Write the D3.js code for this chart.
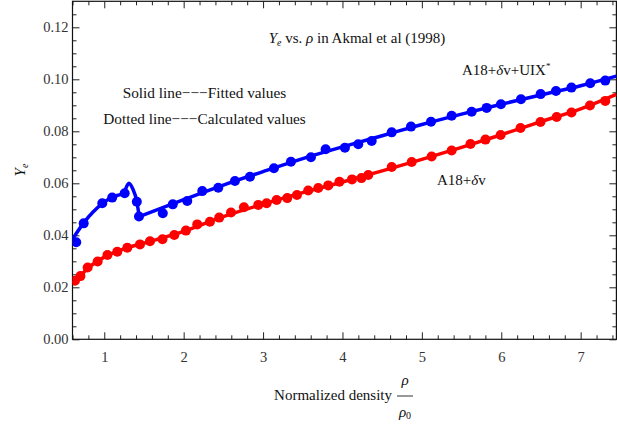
<!DOCTYPE html>
<html>
<head>
<meta charset="utf-8">
<script src="https://cdn.jsdelivr.net/npm/d3@7"></script>
<style>
  body { margin: 0; background: white; }
  svg text { font-family: "Liberation Serif", "DejaVu Serif", serif; }
</style>
</head>
<body>
<div id="chart"></div>
<script>
// calculated values (dots)
var redRho = [0.631, 0.700, 0.791, 0.917, 1.040, 1.164, 1.290, 1.450, 1.576, 1.733, 1.882, 2.029,
  2.171, 2.331, 2.448, 2.596, 2.759, 2.940, 3.045, 3.171, 3.305, 3.427, 3.569, 3.695, 3.821,
  3.962, 4.120, 4.239, 4.325, 4.620, 4.872, 5.123, 5.375, 5.612, 5.801, 5.992, 6.242, 6.494,
  6.698, 6.884, 7.117, 7.310];
var redYe = [0.0225, 0.0243, 0.0276, 0.0299, 0.0324, 0.0337, 0.0352, 0.0365, 0.0377, 0.0385, 0.0401, 0.0418,
  0.0442, 0.0452, 0.0468, 0.0488, 0.0508, 0.0517, 0.0523, 0.0536, 0.0543, 0.0555, 0.0572, 0.0582, 0.0592,
  0.0606, 0.0615, 0.0620, 0.0632, 0.0663, 0.0682, 0.0703, 0.0726, 0.0751, 0.0768, 0.0786, 0.0813, 0.0836,
  0.0855, 0.0872, 0.0899, 0.0917];

var blueRho = [0.647, 0.741, 0.975, 1.100, 1.257, 1.410, 1.437, 1.737, 1.863, 2.045, 2.234, 2.436,
  2.646, 2.835, 3.137, 3.351, 3.603, 3.788, 4.031, 4.199, 4.368, 4.620, 4.863, 5.115, 5.375,
  5.627, 5.816, 5.996, 6.248, 6.496, 6.689, 6.884, 7.121, 7.310];
var blueYe = [0.0373, 0.0446, 0.0523, 0.0545, 0.0562, 0.0529, 0.0472, 0.0485, 0.0519, 0.0532, 0.0570, 0.0583,
  0.0609, 0.0625, 0.0658, 0.0683, 0.0700, 0.0731, 0.0737, 0.0750, 0.0763, 0.0796, 0.0818, 0.0837, 0.0860,
  0.0875, 0.0890, 0.0904, 0.0923, 0.0943, 0.0955, 0.0968, 0.0985, 0.0995];

// fitted values (solid lines)
var redFitRho = [0.6, 0.7, 0.8, 1.0, 1.25, 1.5, 2.0, 2.5, 3.0, 3.5, 4.0, 4.5, 5.0, 5.5, 6.0, 6.5, 7.0, 7.45];
var redFitYe = [0.0215, 0.0245, 0.0275, 0.0316, 0.0348, 0.0370, 0.0415, 0.0472, 0.0520, 0.0564, 0.0605,
  0.0648, 0.0692, 0.0738, 0.0787, 0.0837, 0.0886, 0.0942];

var blueFitRho1 = [0.6, 0.741, 0.975, 1.10, 1.24, 1.31, 1.36, 1.41, 1.44];
var blueFitYe1 = [0.0385, 0.0448, 0.0522, 0.0547, 0.0562, 0.0600, 0.0578, 0.0530, 0.0472];
var blueFitRho2 = [1.44, 2.0, 2.5, 3.0, 3.5, 4.0, 4.5, 5.0, 5.5, 6.0, 6.5, 7.0, 7.45];
var blueFitYe2 = [0.0472, 0.0537, 0.0593, 0.0645, 0.0695, 0.0740, 0.0783, 0.0826, 0.0866, 0.0904,
  0.0940, 0.0975, 0.1012];

var xMajor = [1, 2, 3, 4, 5, 6, 7];
var yMajor = [0, 0.02, 0.04, 0.06, 0.08, 0.10, 0.12];

var width = 617, height = 425;
var plotLeft = 72.5, plotRight = 616.4, plotTop = 1.3, plotBottom = 339.3;

var svg = d3.select("#chart")
  .append("svg")
  .attr("width", width)
  .attr("height", height);

var x = d3.scaleLinear().domain([0.6, 7.45]).range([plotLeft, plotRight]);
var y = d3.scaleLinear().domain([0, 0.13]).range([plotBottom, plotTop]);

var xMinor = d3.range(0.6, 7.45, 0.2).filter(function(v) { return Math.abs(v - Math.round(v)) > 0.01; });
var yMinor = d3.range(0, 0.13, 0.005).filter(function(v) { return Math.abs(v / 0.02 - Math.round(v / 0.02)) > 0.01; });

svg.append("clipPath")
  .attr("id", "plotClip")
  .append("rect")
  .attr("x", plotLeft)
  .attr("y", plotTop)
  .attr("width", plotRight - plotLeft)
  .attr("height", plotBottom - plotTop);

// ticks on all four sides, pointing inward
function tickAxis(axis, pos, values, size, labels) {
  var g = svg.append("g")
    .attr("transform", pos)
    .call(axis.tickValues(values).tickSizeInner(-size).tickSizeOuter(0)
      .tickFormat(labels ? labels : ""));
  g.select(".domain").remove();
  g.selectAll(".tick line").attr("stroke", "#222");
  return g;
}

var xb = tickAxis(d3.axisBottom(x), "translate(0," + plotBottom + ")", xMajor, 7, d3.format("d"));
tickAxis(d3.axisBottom(x), "translate(0," + plotBottom + ")", xMinor, 4, null);
tickAxis(d3.axisTop(x), "translate(0," + plotTop + ")", xMajor, 7, null);
tickAxis(d3.axisTop(x), "translate(0," + plotTop + ")", xMinor, 4, null);
var yl = tickAxis(d3.axisLeft(y), "translate(" + plotLeft + ",0)", yMajor, 7, d3.format(".2f"));
tickAxis(d3.axisLeft(y), "translate(" + plotLeft + ",0)", yMinor, 4, null);
tickAxis(d3.axisRight(y), "translate(" + plotRight + ",0)", yMajor, 7, null);
tickAxis(d3.axisRight(y), "translate(" + plotRight + ",0)", yMinor, 4, null);

xb.selectAll(".tick text")
  .attr("y", 12)
  .style("font-size", "14.5px")
  .style("fill", "#333");
yl.selectAll(".tick text")
  .attr("x", -4)
  .style("font-size", "14.5px")
  .style("fill", "#333");

svg.append("rect")
  .attr("x", plotLeft)
  .attr("y", plotTop)
  .attr("width", plotRight - plotLeft)
  .attr("height", plotBottom - plotTop)
  .style("fill", "none")
  .style("stroke", "#111")
  .style("stroke-width", 1.2);

var plot = svg.append("g").attr("clip-path", "url(#plotClip)");

var line = d3.line()
  .x(function(d) { return x(d[0]); })
  .y(function(d) { return y(d[1]); })
  .curve(d3.curveMonotoneX);

function drawSeries(color, fits, rho, ye) {
  fits.forEach(function(f) {
    plot.append("path")
      .datum(d3.zip(f[0], f[1]))
      .attr("d", line)
      .style("fill", "none")
      .style("stroke", color)
      .style("stroke-width", 3.5)
      .style("stroke-linejoin", "round");
  });
  plot.selectAll(null)
    .data(d3.zip(rho, ye))
    .enter()
    .append("circle")
    .attr("cx", function(d) { return x(d[0]); })
    .attr("cy", function(d) { return y(d[1]); })
    .attr("r", 5)
    .style("fill", color);
}

drawSeries("#ff0000", [[redFitRho, redFitYe]], redRho, redYe);
drawSeries("#0000ff", [[blueFitRho1, blueFitYe1], [blueFitRho2, blueFitYe2]], blueRho, blueYe);

// annotations
var title = svg.append("text")
  .attr("x", 357)
  .attr("y", 43)
  .style("text-anchor", "middle")
  .style("font-size", "15px")
  .style("fill", "#111");
title.append("tspan").style("font-style", "italic").text("Y");
title.append("tspan").style("font-style", "italic").style("font-size", "10px").attr("dy", 3).text("e");
title.append("tspan").attr("dy", -3).text(" vs. ");
title.append("tspan").style("font-style", "italic").text("ρ");
title.append("tspan").text(" in Akmal et al (1998)");

svg.append("text")
  .attr("x", 204.5)
  .attr("y", 97.5)
  .style("text-anchor", "middle")
  .style("font-size", "15.3px")
  .style("fill", "#111")
  .text("Solid line−−−Fitted values");

svg.append("text")
  .attr("x", 204.5)
  .attr("y", 123.5)
  .style("text-anchor", "middle")
  .style("font-size", "15.3px")
  .style("fill", "#111")
  .text("Dotted line−−−Calculated values");

var blueLab = svg.append("text")
  .attr("x", 462)
  .attr("y", 75)
  .style("font-size", "15px")
  .style("fill", "#111");
blueLab.append("tspan").text("A18+");
blueLab.append("tspan").style("font-style", "italic").text("δ");
blueLab.append("tspan").text("v+UIX");
blueLab.append("tspan").style("font-size", "9px").attr("dy", -6).text("*");

var redLab = svg.append("text")
  .attr("x", 437)
  .attr("y", 185)
  .style("font-size", "15px")
  .style("fill", "#111");
redLab.append("tspan").text("A18+");
redLab.append("tspan").style("font-style", "italic").text("δ");
redLab.append("tspan").text("v");

// axis labels
var yLab = svg.append("text")
  .attr("transform", "translate(25,170) rotate(-90)")
  .style("text-anchor", "middle")
  .style("font-size", "15px")
  .style("fill", "#111");
yLab.append("tspan").style("font-style", "italic").text("Y");
yLab.append("tspan").style("font-style", "italic").style("font-size", "10px").attr("dy", 3).text("e");

svg.append("text")
  .attr("x", 392)
  .attr("y", 400)
  .style("text-anchor", "end")
  .style("font-size", "15px")
  .style("fill", "#111")
  .text("Normalized density");

svg.append("line")
  .attr("x1", 397)
  .attr("x2", 413)
  .attr("y1", 396)
  .attr("y2", 396)
  .style("stroke", "#333")
  .style("stroke-width", 1);

svg.append("text")
  .attr("x", 405)
  .attr("y", 385)
  .style("text-anchor", "middle")
  .style("font-size", "15px")
  .style("font-style", "italic")
  .style("fill", "#111")
  .text("ρ");

var den = svg.append("text")
  .attr("x", 405)
  .attr("y", 417)
  .style("text-anchor", "middle")
  .style("font-size", "15px")
  .style("fill", "#111");
den.append("tspan").style("font-style", "italic").text("ρ");
den.append("tspan").style("font-size", "10px").attr("dy", 2).text("0");
</script>
</body>
</html>
